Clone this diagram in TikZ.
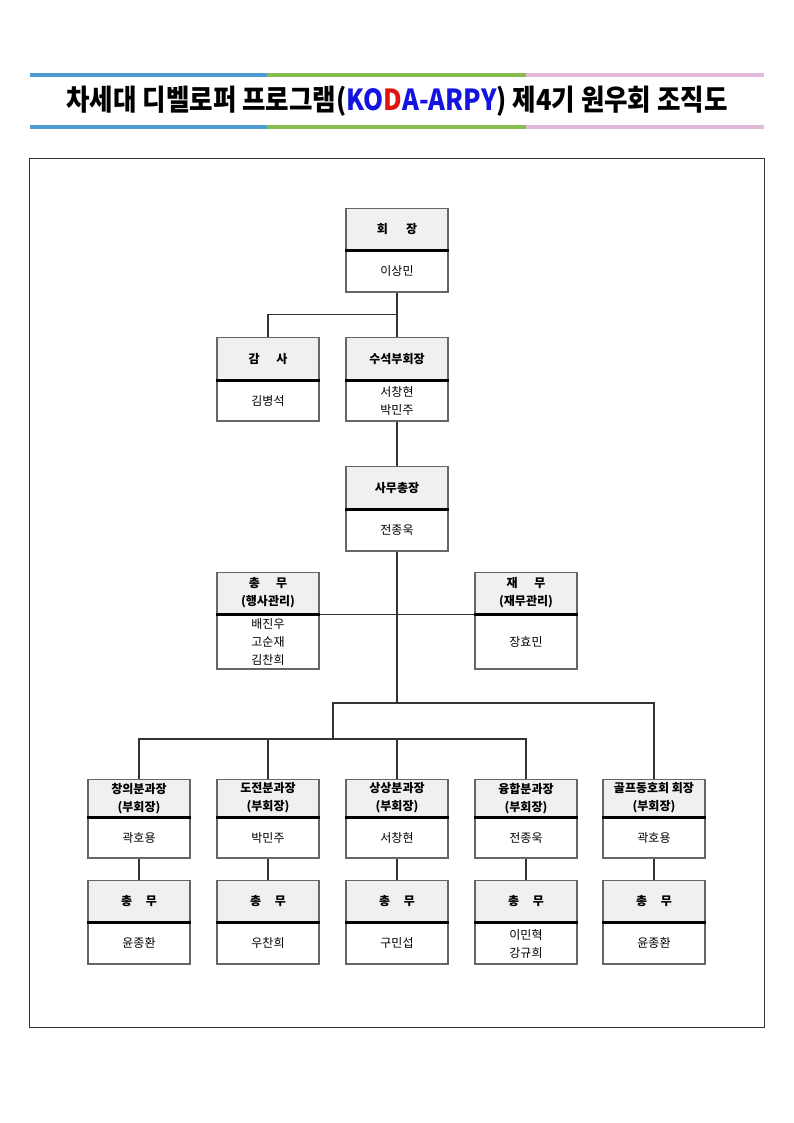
\documentclass[tikz,border=0pt]{standalone}
\usepackage{fontspec}
\setmainfont{Noto Sans CJK KR}
\usetikzlibrary{calc}
\definecolor{barblue}{RGB}{79,155,213}
\definecolor{bargreen}{RGB}{134,190,77}
\definecolor{barpink}{RGB}{228,186,218}
\definecolor{kodablue}{RGB}{20,20,225}
\definecolor{kodared}{RGB}{225,20,20}
\tikzset{
  headbox/.style={draw=black!60, line width=1.3pt, fill=gray!12, minimum width=102pt,
    inner sep=0pt, align=center, font=\fontsize{12}{18}\selectfont\bfseries},
  bodybox/.style={draw=black!60, line width=1.3pt, fill=white, minimum width=102pt,
    inner sep=0pt, align=center, font=\fontsize{12}{18}\selectfont},
  sepline/.style={line width=2.6pt, black},
  link/.style={line width=1.2pt, black!80}
}
% name, x, top y, head height, body height, head text, body text
\newcommand{\orgbox}[7]{%
  \node[headbox, minimum height=#4pt, anchor=north] (#1h) at (#2,#3) {#6};
  \node[bodybox, minimum height=#5pt, anchor=north] (#1b) at (#1h.south) {#7};
  \draw[sepline] (#1h.south west) -- (#1h.south east);
}

\begin{document}
\begin{tikzpicture}[x=1pt,y=-1pt]
  \useasboundingbox (0,0) rectangle (794,1123);

  % 제목 띠
  \fill[barblue] (30,73) rectangle (267,77);
  \fill[bargreen] (267,73) rectangle (526,77);
  \fill[barpink] (526,73) rectangle (764,77);
  \fill[barblue] (30,125) rectangle (267,129);
  \fill[bargreen] (267,125) rectangle (526,129);
  \fill[barpink] (526,125) rectangle (764,129);
  \node[font=\fontsize{29}{30}\selectfont\bfseries] (title) at (397,101)
    {\scalebox{0.88}[1]{차세대 디벨로퍼 프로그램(\textcolor{kodablue}{KO}\textcolor{kodared}{D}\textcolor{kodablue}{A-ARPY}) 제4기 원우회 조직도}};

  % 테두리
  \draw[line width=1pt, black!80] (29,159) rectangle (764,1027);

  % 상단
  \orgbox{pres}{397}{208}{41}{41}{회\hspace{1.5em}장}{이상민}
  \orgbox{audit}{268}{337}{42}{40}{감\hspace{1.4em}사}{김병석}
  \orgbox{svp}{397}{337}{42}{40}{수석부회장}{서창현\\박민주}
  \orgbox{secgen}{397}{466}{42}{41}{사무총장}{전종욱}
  \orgbox{gen}{268}{572}{41}{54}{총\hspace{1.35em}무\\(행사관리)}{배진우\\고순재\\김찬희}
  \orgbox{fin}{526}{572}{41}{54}{재\hspace{1.4em}무\\(재무관리)}{장효민}

  % 분과
  \orgbox{div1}{139}{779}{37}{40}{창의분과장\\(부회장)}{곽호용}
  \orgbox{div2}{268}{779}{37}{40}{도전분과장\\(부회장)}{박민주}
  \orgbox{div3}{397}{779}{37}{40}{상상분과장\\(부회장)}{서창현}
  \orgbox{div4}{526}{779}{37}{40}{융합분과장\\(부회장)}{전종욱}
  \orgbox{div5}{654}{779}{37}{40}{골프동호회 회장\\(부회장)}{곽호용}

  % 총무
  \orgbox{sub1}{139}{880}{41}{41}{총\hspace{1.15em}무}{윤종환}
  \orgbox{sub2}{268}{880}{41}{41}{총\hspace{1.15em}무}{우찬희}
  \orgbox{sub3}{397}{880}{41}{41}{총\hspace{1.15em}무}{구민섭}
  \orgbox{sub4}{526}{880}{41}{41}{총\hspace{1.15em}무}{이민혁\\강규희}
  \orgbox{sub5}{654}{880}{41}{41}{총\hspace{1.15em}무}{윤종환}

  % 연결선
  \coordinate (j1) at ($(presb.south)!0.5!(svph.north)$);
  \coordinate (j2) at (333,703);
  \coordinate (j3) at (333,739);
  \draw[link] (presb.south) -- (svph.north);
  \draw[link] (audith.north) |- (j1);
  \draw[link] (svpb.south) -- (secgenh.north);
  \draw[link] (genh.south east) -- (finh.south west);
  \draw[link] (secgenb.south) -- (secgenb.south |- j2);
  \draw[link] (j3) -- (j2) -| (div5h.north);
  \foreach \i in {1,...,4}
    \draw[link] (div\i h.north) |- (j3);
  \foreach \i in {1,...,5}
    \draw[link] (div\i b.south) -- (sub\i h.north);
\end{tikzpicture}
\end{document}
